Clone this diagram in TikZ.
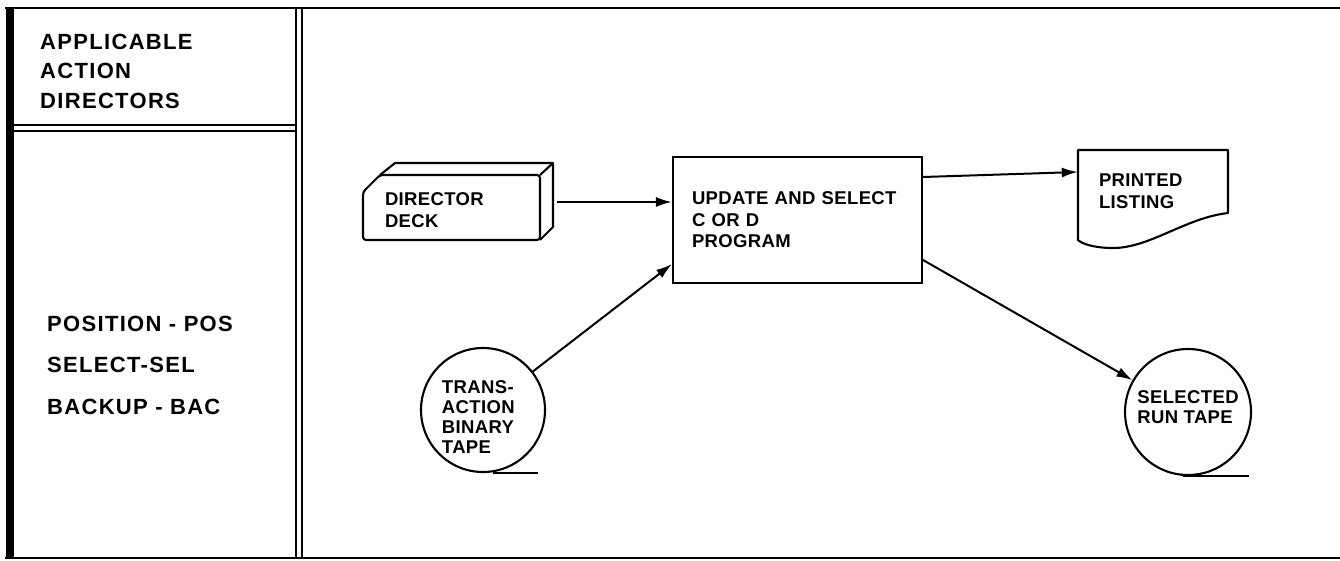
\documentclass[tikz,border=0pt]{standalone}
\usepackage{fontspec}
\setsansfont{Liberation Sans}
\newfontfamily\lettering[LetterSpace=2]{Liberation Sans Bold}
\newfontfamily\wideletters[LetterSpace=6]{Liberation Sans Bold}
\usetikzlibrary{arrows.meta,calc}
\newcommand{\boxfont}{\lettering\fontsize{18.5}{21.5}\selectfont}
\newcommand{\tapefont}{\lettering\fontsize{18.5}{20}\selectfont}
\newcommand{\headfont}{\wideletters\fontsize{22}{29.5}\selectfont}
\newcommand{\codefont}{\wideletters\fontsize{22}{41.5}\selectfont}
\tikzset{
    box/.style =    {rectangle,
                    draw=black,
                    text=black,
                    line width=2.1pt,
                    align=left,
                    inner sep=0pt,
                    font=\boxfont},
    card/.style =   {rectangle,
                    draw=none,
                    text=black,
                    align=left,
                    inner sep=0pt,
                    font=\boxfont},
    tape/.style =   {circle,
                    draw=black,
                    text=black,
                    line width=2.1pt,
                    align=left,
                    inner sep=0pt,
                    font=\tapefont},
    heading/.style ={anchor=base west,
                    align=left,
                    inner sep=0pt,
                    text=black},
    outline/.style ={line width=2.1pt,
                    line join=round},
    rule/.style =   {line width=2.4pt},
    flow/.style =   {-{Latex[length=16pt,width=10pt]},
                    line width=2pt}
}

\begin{document}
\begin{tikzpicture}[x=1pt,y=-1pt]
            \useasboundingbox (0,0) rectangle (1340,560);
            % frame and left column
            \draw[rule]  (5,8) -- (1340,8);
            \draw[rule]  (5,558) -- (1340,558);
            \draw[line width=8pt]  (10,6.8) -- (10,559.2);
            \draw[rule]  (296,8) -- (296,558) (302,8) -- (302,558);
            \draw[rule]  (10,125) -- (296,125) (10,131) -- (296,131);
            \node[heading,font=\headfont] (head)  at (40,108)  {APPLICABLE\\ACTION\\DIRECTORS};
            \node[heading,font=\codefont] (codes) at (47,414)  {POSITION - POS\\SELECT-SEL\\BACKUP - BAC};
            % flow chart
            \node[card,minimum width=177pt,minimum height=70pt,text width=133pt]    (deck)     at (451.5,210)  {DIRECTOR\\DECK};
            \node[box,minimum width=249pt,minimum height=126pt,text width=211pt]    (update)   at (797.5,220)  {UPDATE AND SELECT\\C OR D\\PROGRAM};
            \node[card,minimum width=150pt,minimum height=82pt,text width=108pt]    (listing)  at (1153,191)   {PRINTED\\LISTING};
            \node[tape,minimum size=124pt]   (trans)    at (483,410)    {\rule{0pt}{26pt}TRANS-\\ACTION\\BINARY\rule{10pt}{0pt}\\TAPE};
            \node[tape,minimum size=126pt]   (selected) at (1188,412)   {SELECTED\\RUN TAPE\rule[-9pt]{0pt}{0pt}};
            % card and document outlines
            \draw[outline,rounded corners=3pt]  (363,192) -- (380,175) -- (540,175) -- (540,240) -- (363,240) -- cycle;
            \draw[outline]  (380,175) -- (395,163) -- (553,163) -- (553,227) -- (540,240);
            \draw[outline]  (540,175) -- (553,163);
            \draw[outline]  (1078,150) -- (1228,150) -- (1228,213)
                            .. controls (1185,218) and (1150,248) .. (1113,248)
                            .. controls (1095,248) and (1082,244) .. (1078,240) -- cycle;
            \draw[outline]  ([xshift=10pt]trans.south) -- ++(45,0);
            \draw[outline]  ([xshift=-5pt]selected.south) -- ++(66,0);
            % connectors
            \draw[flow]  ([shift={(17pt,8pt)}]deck.east) coordinate (deckout) -- (deckout -| update.west);
            \draw[flow]  (trans) -- ([yshift=20pt]update.south west);
            \draw[flow]  ([yshift=43pt]update.east) -- ([yshift=19pt]listing.west);
            \draw[flow]  ([yshift=-40pt]update.east) -- (selected);
        \end{tikzpicture}
\end{document}
